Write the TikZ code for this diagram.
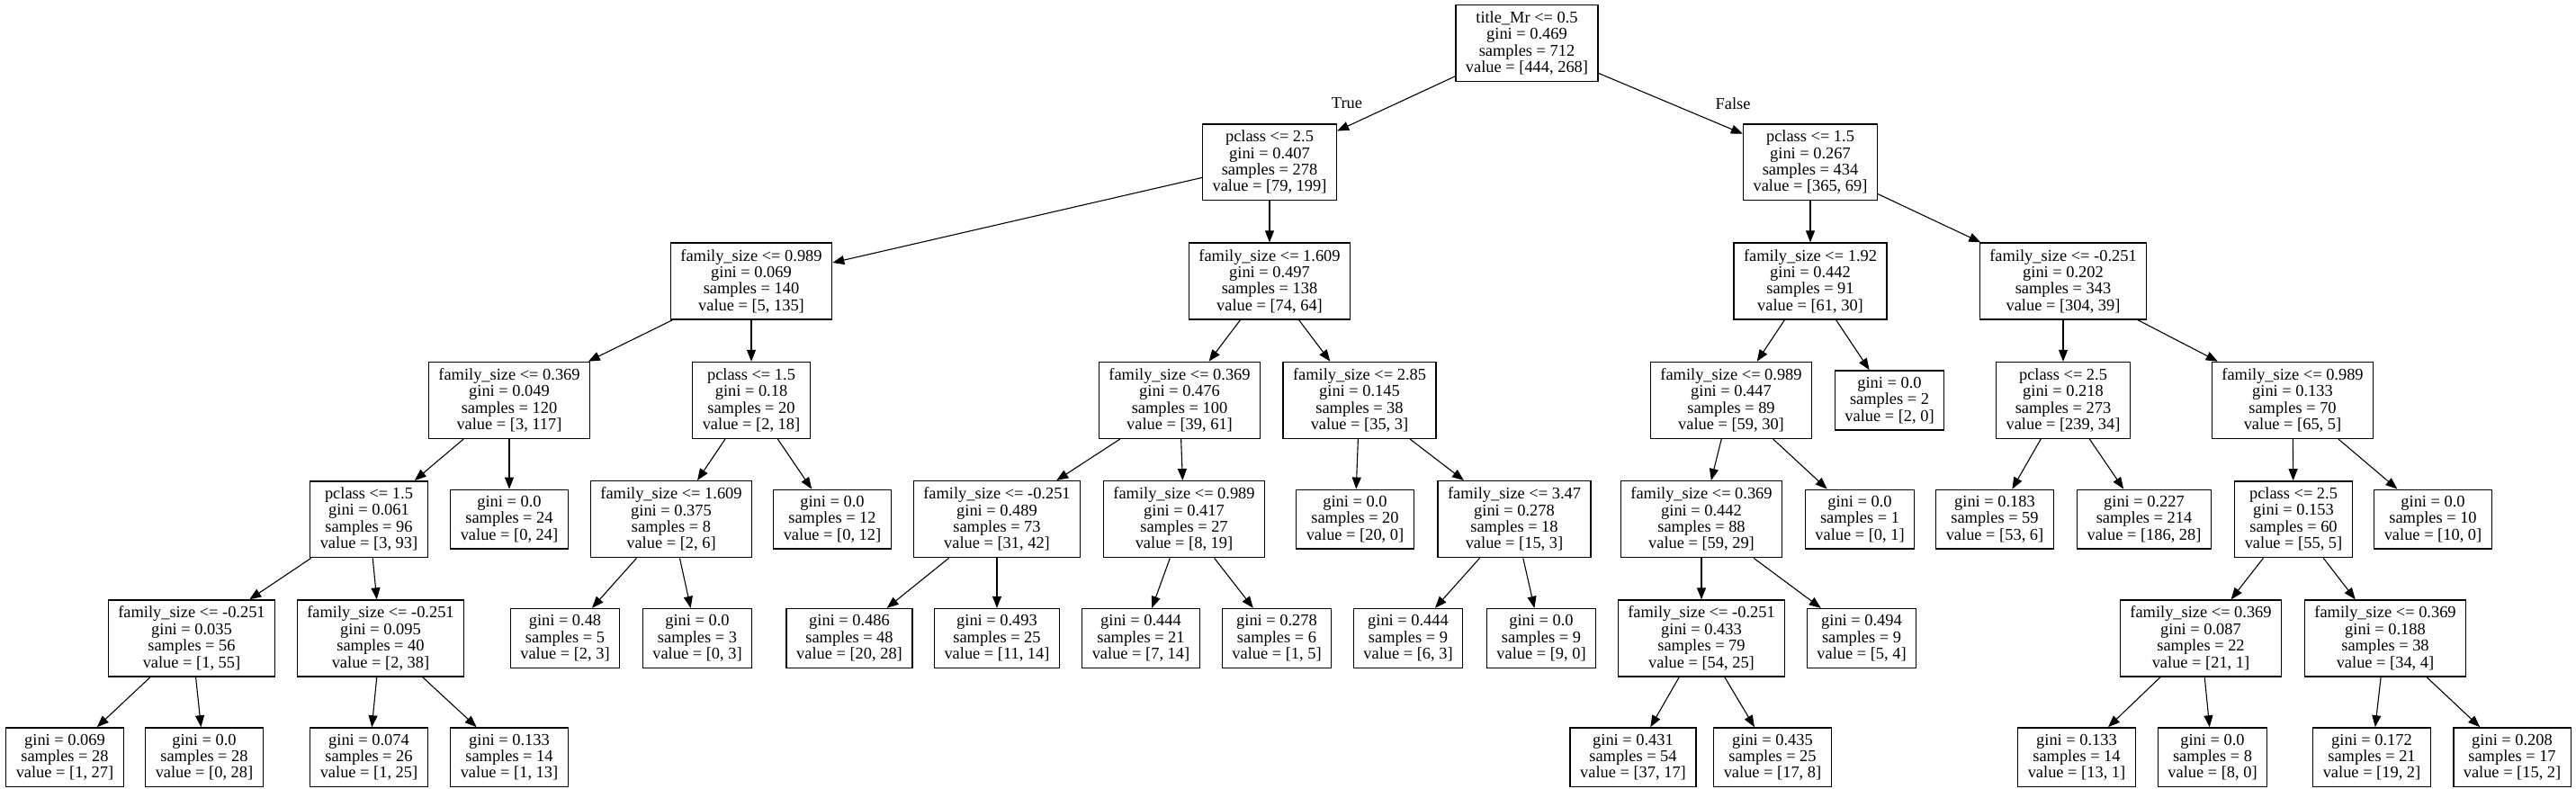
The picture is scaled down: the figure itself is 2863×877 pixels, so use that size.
\documentclass[tikz,border=0pt]{standalone}
\usepackage{fontspec}
\setmainfont{Liberation Serif}
\usetikzlibrary{arrows.meta}

\tikzset{
  treebox/.style={draw, rectangle, line width=1.4pt, align=center, inner xsep=11pt, inner ysep=7pt, font=\fontsize{18.4}{18.4}\selectfont},
  edge/.style={-{Triangle[length=13pt,width=10pt]}, line width=1.1pt},
  lbl/.style={font=\fontsize{18.4}{18.4}\selectfont}
}

\begin{document}
\begin{tikzpicture}[x=1pt, y=-1pt]
    \useasboundingbox (0,0) rectangle (2863,877);

    % Root
    \node[treebox] (n0) at (1697,48) {title\_Mr <= 0.5\\gini = 0.469\\samples = 712\\value = [444, 268]};

    % Depth 1
    \node[treebox] (n1) at (1411,180.3) {pclass <= 2.5\\gini = 0.407\\samples = 278\\value = [79, 199]};
    \node[treebox] (n30) at (2012,180.3) {pclass <= 1.5\\gini = 0.267\\samples = 434\\value = [365, 69]};

    % Depth 2
    \node[treebox] (n2) at (835,312.6) {family\_size <= 0.989\\gini = 0.069\\samples = 140\\value = [5, 135]};
    \node[treebox] (n17) at (1411,312.6) {family\_size <= 1.609\\gini = 0.497\\samples = 138\\value = [74, 64]};
    \node[treebox] (n31) at (2012,312.6) {family\_size <= 1.92\\gini = 0.442\\samples = 91\\value = [61, 30]};
    \node[treebox] (n40) at (2293,312.6) {family\_size <= -0.251\\gini = 0.202\\samples = 343\\value = [304, 39]};

    % Depth 3
    \node[treebox] (n3) at (566,444.9) {family\_size <= 0.369\\gini = 0.049\\samples = 120\\value = [3, 117]};
    \node[treebox] (n12) at (835,444.9) {pclass <= 1.5\\gini = 0.18\\samples = 20\\value = [2, 18]};
    \node[treebox] (n18) at (1311,444.9) {family\_size <= 0.369\\gini = 0.476\\samples = 100\\value = [39, 61]};
    \node[treebox] (n25) at (1511,444.9) {family\_size <= 2.85\\gini = 0.145\\samples = 38\\value = [35, 3]};
    \node[treebox] (n32) at (1924,444.9) {family\_size <= 0.989\\gini = 0.447\\samples = 89\\value = [59, 30]};
    \node[treebox] (n39) at (2100,444.9) {gini = 0.0\\samples = 2\\value = [2, 0]};
    \node[treebox] (n41) at (2293,444.9) {pclass <= 2.5\\gini = 0.218\\samples = 273\\value = [239, 34]};
    \node[treebox] (n44) at (2548,444.9) {family\_size <= 0.989\\gini = 0.133\\samples = 70\\value = [65, 5]};

    % Depth 4
    \node[treebox] (n4) at (410,577.2) {pclass <= 1.5\\gini = 0.061\\samples = 96\\value = [3, 93]};
    \node[treebox] (n11) at (566,577.2) {gini = 0.0\\samples = 24\\value = [0, 24]};
    \node[treebox] (n13) at (746,577.2) {family\_size <= 1.609\\gini = 0.375\\samples = 8\\value = [2, 6]};
    \node[treebox] (n16) at (925,577.2) {gini = 0.0\\samples = 12\\value = [0, 12]};
    \node[treebox] (n19) at (1108,577.2) {family\_size <= -0.251\\gini = 0.489\\samples = 73\\value = [31, 42]};
    \node[treebox] (n22) at (1316,577.2) {family\_size <= 0.989\\gini = 0.417\\samples = 27\\value = [8, 19]};
    \node[treebox] (n26) at (1506,577.2) {gini = 0.0\\samples = 20\\value = [20, 0]};
    \node[treebox] (n27) at (1683,577.2) {family\_size <= 3.47\\gini = 0.278\\samples = 18\\value = [15, 3]};
    \node[treebox] (n33) at (1891,577.2) {family\_size <= 0.369\\gini = 0.442\\samples = 88\\value = [59, 29]};
    \node[treebox] (n38) at (2067,577.2) {gini = 0.0\\samples = 1\\value = [0, 1]};
    \node[treebox] (n42) at (2217,577.2) {gini = 0.183\\samples = 59\\value = [53, 6]};
    \node[treebox] (n43) at (2383,577.2) {gini = 0.227\\samples = 214\\value = [186, 28]};
    \node[treebox] (n45) at (2549,577.2) {pclass <= 2.5\\gini = 0.153\\samples = 60\\value = [55, 5]};
    \node[treebox] (n52) at (2704,577.2) {gini = 0.0\\samples = 10\\value = [10, 0]};

    % Depth 5
    \node[treebox] (n5) at (213,709.5) {family\_size <= -0.251\\gini = 0.035\\samples = 56\\value = [1, 55]};
    \node[treebox] (n8) at (423,709.5) {family\_size <= -0.251\\gini = 0.095\\samples = 40\\value = [2, 38]};
    \node[treebox] (n14) at (628,709.5) {gini = 0.48\\samples = 5\\value = [2, 3]};
    \node[treebox] (n15) at (775,709.5) {gini = 0.0\\samples = 3\\value = [0, 3]};
    \node[treebox] (n20) at (944,709.5) {gini = 0.486\\samples = 48\\value = [20, 28]};
    \node[treebox] (n21) at (1108,709.5) {gini = 0.493\\samples = 25\\value = [11, 14]};
    \node[treebox] (n23) at (1268,709.5) {gini = 0.444\\samples = 21\\value = [7, 14]};
    \node[treebox] (n24) at (1419,709.5) {gini = 0.278\\samples = 6\\value = [1, 5]};
    \node[treebox] (n28) at (1565,709.5) {gini = 0.444\\samples = 9\\value = [6, 3]};
    \node[treebox] (n29) at (1713,709.5) {gini = 0.0\\samples = 9\\value = [9, 0]};
    \node[treebox] (n34) at (1891,709.5) {family\_size <= -0.251\\gini = 0.433\\samples = 79\\value = [54, 25]};
    \node[treebox] (n37) at (2069,709.5) {gini = 0.494\\samples = 9\\value = [5, 4]};
    \node[treebox] (n46) at (2446,709.5) {family\_size <= 0.369\\gini = 0.087\\samples = 22\\value = [21, 1]};
    \node[treebox] (n49) at (2651,709.5) {family\_size <= 0.369\\gini = 0.188\\samples = 38\\value = [34, 4]};

    % Depth 6
    \node[treebox] (n6) at (72,841.8) {gini = 0.069\\samples = 28\\value = [1, 27]};
    \node[treebox] (n7) at (227,841.8) {gini = 0.0\\samples = 28\\value = [0, 28]};
    \node[treebox] (n9) at (410,841.8) {gini = 0.074\\samples = 26\\value = [1, 25]};
    \node[treebox] (n10) at (566,841.8) {gini = 0.133\\samples = 14\\value = [1, 13]};
    \node[treebox] (n35) at (1815,841.8) {gini = 0.431\\samples = 54\\value = [37, 17]};
    \node[treebox] (n36) at (1970,841.8) {gini = 0.435\\samples = 25\\value = [17, 8]};
    \node[treebox] (n47) at (2308,841.8) {gini = 0.133\\samples = 14\\value = [13, 1]};
    \node[treebox] (n48) at (2459,841.8) {gini = 0.0\\samples = 8\\value = [8, 0]};
    \node[treebox] (n50) at (2636,841.8) {gini = 0.172\\samples = 21\\value = [19, 2]};
    \node[treebox] (n51) at (2792,841.8) {gini = 0.208\\samples = 17\\value = [15, 2]};

    % Branch labels
    \node[lbl] (lblTrue) at (1497,115) {True};
    \node[lbl] (lblFalse) at (1926,115) {False};

    % Edges
    \draw[edge] (n0) -- (n1);   \draw[edge] (n0) -- (n30);
    \draw[edge] (n1) -- (n2);   \draw[edge] (n1) -- (n17);
    \draw[edge] (n2) -- (n3);   \draw[edge] (n2) -- (n12);
    \draw[edge] (n3) -- (n4);   \draw[edge] (n3) -- (n11);
    \draw[edge] (n4) -- (n5);   \draw[edge] (n4) -- (n8);
    \draw[edge] (n5) -- (n6);   \draw[edge] (n5) -- (n7);
    \draw[edge] (n8) -- (n9);   \draw[edge] (n8) -- (n10);
    \draw[edge] (n12) -- (n13); \draw[edge] (n12) -- (n16);
    \draw[edge] (n13) -- (n14); \draw[edge] (n13) -- (n15);
    \draw[edge] (n17) -- (n18); \draw[edge] (n17) -- (n25);
    \draw[edge] (n18) -- (n19); \draw[edge] (n18) -- (n22);
    \draw[edge] (n19) -- (n20); \draw[edge] (n19) -- (n21);
    \draw[edge] (n22) -- (n23); \draw[edge] (n22) -- (n24);
    \draw[edge] (n25) -- (n26); \draw[edge] (n25) -- (n27);
    \draw[edge] (n27) -- (n28); \draw[edge] (n27) -- (n29);
    \draw[edge] (n30) -- (n31); \draw[edge] (n30) -- (n40);
    \draw[edge] (n31) -- (n32); \draw[edge] (n31) -- (n39);
    \draw[edge] (n32) -- (n33); \draw[edge] (n32) -- (n38);
    \draw[edge] (n33) -- (n34); \draw[edge] (n33) -- (n37);
    \draw[edge] (n34) -- (n35); \draw[edge] (n34) -- (n36);
    \draw[edge] (n40) -- (n41); \draw[edge] (n40) -- (n44);
    \draw[edge] (n41) -- (n42); \draw[edge] (n41) -- (n43);
    \draw[edge] (n44) -- (n45); \draw[edge] (n44) -- (n52);
    \draw[edge] (n45) -- (n46); \draw[edge] (n45) -- (n49);
    \draw[edge] (n46) -- (n47); \draw[edge] (n46) -- (n48);
    \draw[edge] (n49) -- (n50); \draw[edge] (n49) -- (n51);
\end{tikzpicture}
\end{document}
